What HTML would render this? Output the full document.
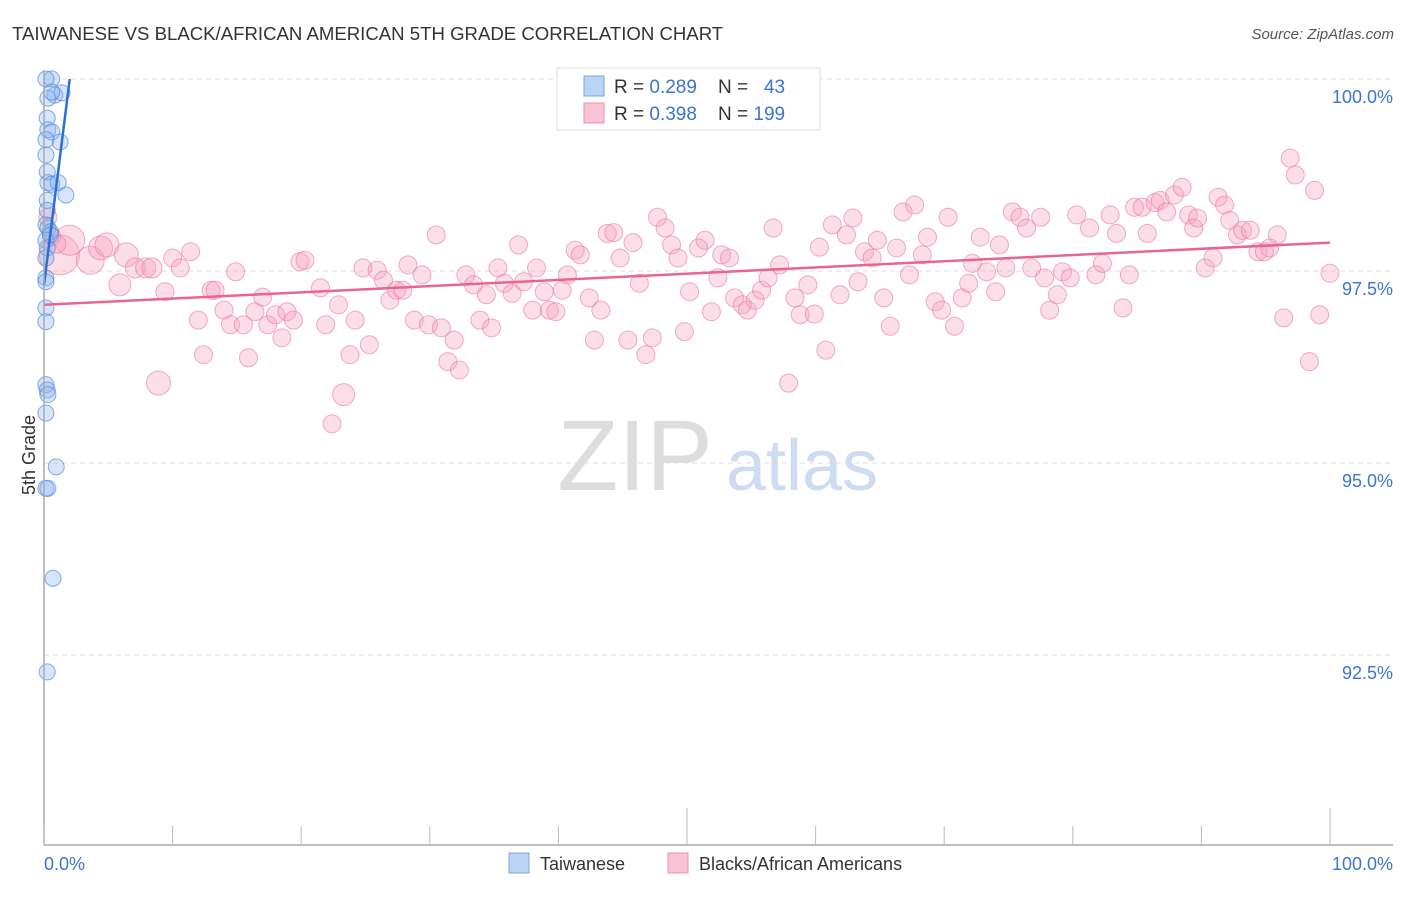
<!DOCTYPE html>
<html><head><meta charset="utf-8"><style>
body{margin:0;background:#fff;font-family:"Liberation Sans",sans-serif}
svg text{font-family:"Liberation Sans",sans-serif}
</style></head><body>
<svg id="chart" width="1406" height="892" viewBox="0 0 1406 892" xmlns="http://www.w3.org/2000/svg">
<text x="12" y="40" font-size="18.6" fill="#333">TAIWANESE VS BLACK/AFRICAN AMERICAN 5TH GRADE CORRELATION CHART</text>
<text x="1394" y="39" font-size="15" fill="#555" text-anchor="end" font-style="italic">Source: ZipAtlas.com</text>
<text x="35" y="455" font-size="18" fill="#333" text-anchor="middle" transform="rotate(-90 35 455)">5th Grade</text>
<g><text x="635" y="490" font-size="100" fill="#ddd" text-anchor="middle" font-family="Liberation Serif,serif">ZIP</text><text x="802" y="490" font-size="72" fill="#cddcf0" text-anchor="middle">atlas</text></g>
<g id="grid"></g><g id="pinkg"></g><g id="blueg"></g><g id="lines"></g>
<line x1="44" y1="845" x2="1393" y2="845" stroke="#aaa" stroke-width="1.5"/>
<line x1="44" y1="70" x2="44" y2="845" stroke="#aaa" stroke-width="1.5"/>
<g id="ticks"></g>
<text x="44" y="870" font-size="18" fill="#3a74d4">0.0%</text>
<text x="1393" y="870" font-size="18" fill="#3a74d4" text-anchor="end">100.0%</text>
<g>
<rect x="557" y="68" width="263" height="62" fill="#fff" stroke="#ddd"/>
<rect x="584" y="76" width="20" height="20" fill="#b9d3f5" stroke="#7aa6e0"/>
<rect x="584" y="103" width="20" height="20" fill="#f9c3d3" stroke="#ec92ae"/>
<text x="614" y="93" font-size="19" fill="#333" xml:space="preserve">R = <tspan fill="#3a74d4">0.289</tspan>    N =   <tspan fill="#3a74d4">43</tspan></text>
<text x="614" y="120" font-size="19" fill="#333" xml:space="preserve">R = <tspan fill="#3a74d4">0.398</tspan>    N = <tspan fill="#3a74d4">199</tspan></text>
</g>
<g>
<rect x="509" y="853" width="20" height="20" fill="#b9d3f5" stroke="#7aa6e0"/>
<text x="540" y="870" font-size="18" fill="#333">Taiwanese</text>
<rect x="668" y="853" width="20" height="20" fill="#f9c3d3" stroke="#ec92ae"/>
<text x="699" y="870" font-size="18" fill="#333">Blacks/African Americans</text>
</g>
</svg>
<script>
const yTicks=[100,97.5,95,92.5];
const yTickLabels=["100.0%","97.5%","95.0%","92.5%"];
const xTicks=[0,10,20,30,40,50,60,70,80,90,100];
const pinkX=[1.2,2.0,3.6,4.4,4.9,5.9,6.4,7.1,7.9,8.4,8.9,9.4,10.0,10.6,11.4,12.0,12.4,13.0,13.3,14.0,14.5,14.9,15.5,15.9,16.4,17.0,17.4,18.0,18.5,18.9,19.4,19.9,20.3,21.5,21.9,22.9,22.4,23.3,23.8,24.2,24.8,25.3,25.9,26.4,26.9,27.4,27.9,28.3,28.8,29.4,29.9,30.5,30.9,31.4,31.9,32.3,32.8,33.4,33.9,34.4,34.8,35.3,35.8,36.4,36.9,37.3,38.0,38.3,38.9,39.3,39.8,40.3,40.7,41.3,41.7,42.4,42.8,43.3,43.8,44.3,44.8,45.4,45.8,46.3,46.8,47.3,47.7,48.3,48.8,49.3,49.8,50.2,50.9,51.4,51.9,52.4,52.7,53.3,53.7,54.3,54.7,55.3,55.8,56.3,56.7,57.2,57.9,58.4,58.8,59.4,59.9,60.3,60.8,61.3,61.9,62.4,62.9,63.3,63.8,64.4,64.8,65.3,65.8,66.3,66.8,67.3,67.7,68.3,68.7,69.3,69.8,70.3,70.8,71.4,71.9,72.2,72.8,73.3,74.0,74.3,74.8,75.3,75.9,76.4,76.8,77.5,77.8,78.2,78.8,79.2,79.8,80.3,81.3,81.8,82.3,82.9,83.4,83.9,84.4,84.8,85.4,85.8,86.4,86.8,87.3,87.9,88.5,89.0,89.4,89.7,90.3,90.9,91.3,91.8,92.2,92.8,93.2,93.8,94.4,94.9,95.3,95.9,96.4,96.9,97.3,98.4,98.8,99.2,100,0.3,0.6,1.0];
const pinkY=[97.71,97.9,97.64,97.8,97.84,97.32,97.71,97.54,97.54,97.54,96.04,97.23,97.67,97.54,97.75,96.86,96.41,97.25,97.25,96.99,96.8,97.49,96.8,96.37,96.97,97.16,96.8,96.93,96.63,96.97,96.86,97.62,97.64,97.28,96.8,97.06,95.51,95.89,96.41,96.86,97.54,96.54,97.51,97.38,97.12,97.25,97.25,97.58,96.86,97.45,96.8,97.97,96.76,96.32,96.6,96.21,97.45,97.32,96.86,97.19,96.76,97.54,97.34,97.21,97.84,97.36,96.99,97.54,97.23,96.99,96.97,97.25,97.45,97.77,97.71,97.15,96.6,96.99,97.99,98.0,97.67,96.6,97.87,97.34,96.41,96.63,98.2,98.06,97.84,97.67,96.71,97.23,97.8,97.9,96.97,97.41,97.71,97.67,97.15,97.06,96.99,97.12,97.25,97.41,98.06,97.58,96.04,97.15,96.93,97.32,96.94,97.81,96.47,98.1,97.19,97.97,98.19,97.36,97.75,97.67,97.9,97.15,96.78,97.8,98.27,97.45,98.36,97.71,97.94,97.1,96.99,98.2,96.78,97.15,97.34,97.6,97.94,97.49,97.23,97.84,97.54,98.27,98.2,98.06,97.54,98.2,97.41,96.99,97.19,97.49,97.41,98.23,98.06,97.45,97.6,98.23,97.99,97.02,97.45,98.33,98.33,97.99,98.39,98.42,98.27,98.49,98.59,98.23,98.06,98.19,97.54,97.67,98.46,98.36,98.16,97.97,98.03,98.03,97.75,97.75,97.8,97.97,96.89,98.97,98.75,96.32,98.55,96.93,97.47,98.2,97.95,97.85];
const pinkSize=[20,15,14,12,12,11,12,10,10,10,12,9,9,9,9,9,9,9,9,9,9,9,9,9,9,9,9,9,9,9,9,9,9,9,9,9,9,11];
const blueX=[0.6,0.15,0.85,0.3,1.4,0.25,0.3,0.6,1.25,0.15,0.25,0.3,0.6,1.1,1.7,0.25,0.15,0.3,0.5,0.15,0.25,0.15,0.15,0.15,0.15,0.15,0.25,0.3,0.15,0.95,0.15,0.3,0.7,0.25,0.5,0.15,0.25,0.15,0.6];
const blueY=[100,100,99.79,99.75,99.82,99.49,99.34,99.31,99.18,99.21,98.79,98.65,98.63,98.65,98.49,98.42,98.1,98.06,98.01,97.9,97.8,97.41,97.36,97.02,96.84,96.02,95.95,95.89,95.65,94.95,94.67,94.67,93.5,92.28,97.97,97.67,98.29,99.01,99.83];
const blueTrendX=[0,2];
const blueTrendY=[97.32,100];
const pinkTrendX=[0,100];
const pinkTrendY=[97.06,97.87];
const NS="http://www.w3.org/2000/svg";
function xs(v){return 44+v*12.86;}
function ys(v){return 79+(100-v)*76.8;}
function mk(tag,attrs,parent){const e=document.createElementNS(NS,tag);for(const k in attrs)e.setAttribute(k,attrs[k]);document.getElementById(parent).appendChild(e);return e;}
yTicks.forEach((t,i)=>{
  const l=mk('line',{x1:44,x2:1393,y1:ys(t),y2:ys(t),stroke:'#ddd','stroke-dasharray':'5,4'},'grid');
  
  
  const tx=mk('text',{x:1393,y:ys(t)+24,'font-size':18,fill:'#3a74d4','text-anchor':'end'},'grid');
  tx.textContent=yTickLabels[i];
  
  
});
xTicks.forEach(t=>{
  const big=(t===50||t===100);
  const l=mk('line',{x1:xs(t),x2:xs(t),y1:big?808:826,y2:845,stroke:'#bbb'},'ticks');
  
  
});
pinkX.forEach((x,i)=>{
  const c=mk('circle',{cx:xs(x),cy:ys(pinkY[i]),r:pinkSize[i]||9,fill:'rgba(246,160,190,0.35)',stroke:'rgba(232,120,160,0.6)','stroke-width':1},'pinkg');
  
  
});
blueX.forEach((x,i)=>{
  const c=mk('circle',{cx:xs(x),cy:ys(blueY[i]),r:8,fill:'rgba(140,180,240,0.35)',stroke:'rgba(70,130,220,0.65)','stroke-width':1},'blueg');
  
  
});
const pl=mk('line',{x1:xs(pinkTrendX[0]),y1:ys(pinkTrendY[0]),x2:xs(pinkTrendX[1]),y2:ys(pinkTrendY[1]),stroke:'#e8658f','stroke-width':2.5},'lines');


const bl=mk('line',{x1:xs(blueTrendX[0]),y1:ys(blueTrendY[0]),x2:xs(blueTrendX[1]),y2:ys(blueTrendY[1]),stroke:'#2a6fd6','stroke-width':2.5},'lines');


</script>
</body></html>
